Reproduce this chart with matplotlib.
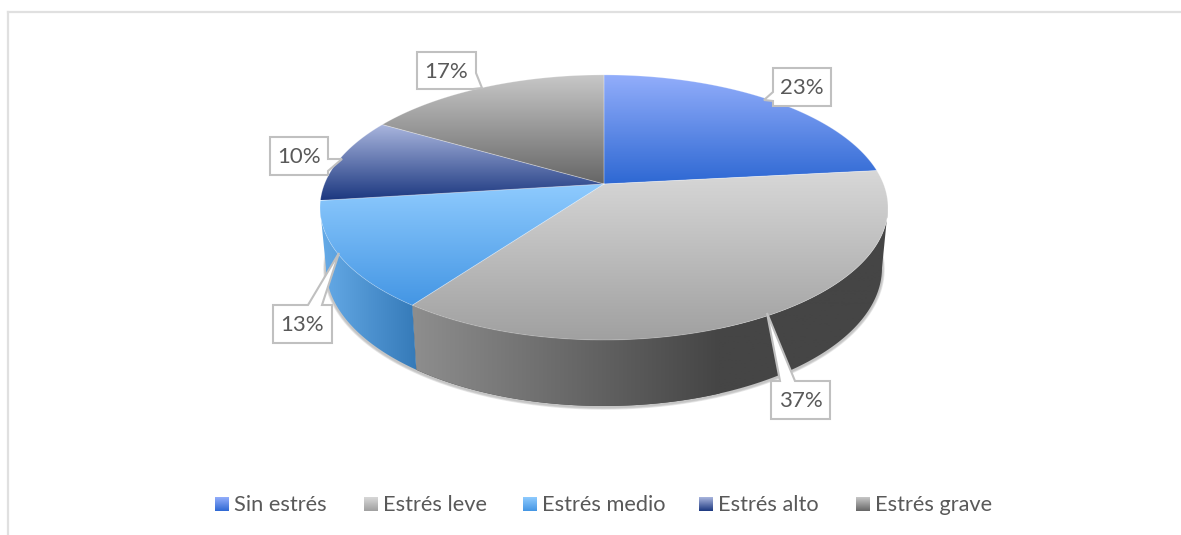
import numpy as np
import matplotlib
matplotlib.use("Agg")
import matplotlib.pyplot as plt
from matplotlib.colors import to_rgb
from matplotlib.patches import Polygon

categories = ["Sin estrés", "Estrés leve", "Estrés medio", "Estrés alto", "Estrés grave"]
values = [23.3, 36.7, 13.0, 10.4, 16.6]
labels = ["23%", "37%", "13%", "10%", "17%"]

# top and bottom colour of each slice face
face_colors = [("#93AEFB", "#2E68D3"), ("#D8D8D8", "#A0A0A0"), ("#8FCBFE", "#4496E4"),
               ("#AAB6DE", "#1C3880"), ("#C8C8C8", "#666666")]
# left and right colour of the side wall
wall_colors = {1: ("#8E8E8E", "#454545"), 2: ("#66ABE8", "#357AB8")}

WIDTH, HEIGHT = 1181, 535
TEXT = "#595959"
BORDER = "#C0C0C0"

# the disc is a circle seen in perspective
APEX_X = 604
TILT = 0.177
TOP_RING = (184, 279.5, 128.4)
BOTTOM_RING = (243.5, 273.6, 133.7)

legend_x = [215, 364, 523, 699, 856]

# box left, top, right, bottom, then the whole outline is walked clockwise
callouts = [
    (773, 68, 831, 106, [(773, 68), (831, 68), (831, 106), (773, 106), (773, 101), (764, 100), (773, 92)]),
    (771, 381, 830, 419, [(771, 381), (780, 381), (767, 313), (795, 381), (830, 381), (830, 419), (771, 419)]),
    (273, 305, 332, 343, [(273, 305), (308, 305), (339, 253), (322, 305), (332, 305), (332, 343), (273, 343)]),
    (270, 137, 328, 175, [(270, 137), (328, 137), (328, 159), (342, 159), (328, 171), (328, 175), (270, 175)]),
    (417, 52, 476, 89, [(417, 52), (476, 52), (476, 73), (482, 88), (473, 89), (417, 89)]),
]


def ring_points(ring, a, b):
    apex_y, r, s = ring
    t = np.radians(np.linspace(a, b, max(int(abs(b - a)) * 2, 2)))
    den = 1 + TILT * np.cos(t)
    return np.column_stack([APEX_X + r * np.sin(t) / den, apex_y - s * np.cos(t) / den])


def gradient(ax, pts, c0, c1, vertical=True, extent=None):
    patch = Polygon(pts, closed=True, fc="none", ec="none")
    ax.add_patch(patch)
    x0, y0 = pts.min(axis=0)
    x1, y1 = pts.max(axis=0)
    f = np.linspace(0, 1, 256)[:, None]
    img = (1 - f) * np.array(to_rgb(c0)) + f * np.array(to_rgb(c1))
    img = img[:, None, :] if vertical else img[None, :, :]
    if extent is None:
        extent = (x0, x1, y1, y0)
    im = ax.imshow(img, extent=extent, aspect="auto", interpolation="bilinear", zorder=2)
    im.set_clip_path(patch)


plt.rcParams["font.family"] = ["Lato", "DejaVu Sans"]

fig = plt.figure(figsize=(WIDTH / 100, HEIGHT / 100), dpi=100)
ax = fig.add_axes([0, 0, 1, 1])

# chart frame, only top and left show
ax.plot([8, WIDTH], [12, 12], color="#E0E0E0", lw=1.6, zorder=1)
ax.plot([8, 8], [12, HEIGHT], color="#E0E0E0", lw=1.6, zorder=1)

edges = np.cumsum([0] + values) / sum(values) * 360
vis_a = 180 - np.degrees(np.arccos(TILT))
vis_b = 180 + np.degrees(np.arccos(TILT))

# soft shadow under the wall
low = ring_points(BOTTOM_RING, vis_a - 8, vis_b + 8)
for lw in [4, 3, 2]:
    ax.plot(low[:, 0], low[:, 1] + 1, color="#808080", alpha=0.18, lw=lw, zorder=1.5,
            solid_capstyle="round")

# walls
for i, cols in wall_colors.items():
    a = max(edges[i], vis_a)
    b = min(edges[i + 1], vis_b)
    pts = np.vstack([ring_points(TOP_RING, a, b), ring_points(BOTTOM_RING, b, a)])
    if i == 1:
        # the gray wall goes flat dark from about x=720 to the right
        gradient(ax, pts, cols[1], cols[1])
        keep = pts[pts[:, 0] <= 720]
        gradient(ax, keep, cols[0], cols[1], vertical=False, extent=(412, 720, 420, 250))
    else:
        gradient(ax, pts, cols[0], cols[1], vertical=False)

# top faces
for i, (c0, c1) in enumerate(face_colors):
    rim = ring_points(TOP_RING, edges[i], edges[i + 1])
    pts = np.vstack([[APEX_X, TOP_RING[0]], rim])
    gradient(ax, pts, c0, c1)
    ax.plot(pts[:, 0].tolist() + [APEX_X], pts[:, 1].tolist() + [TOP_RING[0]],
            color="white", alpha=0.25, lw=0.6, zorder=3)

# data labels
for lab, (l, t, r, b, outline) in zip(labels, callouts):
    ax.add_patch(Polygon(outline, closed=True, fc="white", ec=BORDER, lw=1.5, zorder=5,
                         joinstyle="miter"))
    ax.text((l + r) / 2, (t + b) / 2 + 1, lab, ha="center", va="center", color=TEXT,
            fontsize=16, zorder=6)

# legend
for x, name, (c0, c1) in zip(legend_x, categories, face_colors):
    pts = np.array([(x, 497), (x + 14, 497), (x + 14, 511), (x, 511)])
    gradient(ax, pts, c0, c1)
    ax.text(x + 19, 511, name, ha="left", va="baseline", color=TEXT, fontsize=15.7)

ax.set_xlim(0, WIDTH)
ax.set_ylim(HEIGHT, 0)
ax.axis("off")

fig.savefig("out.png", dpi=100)
